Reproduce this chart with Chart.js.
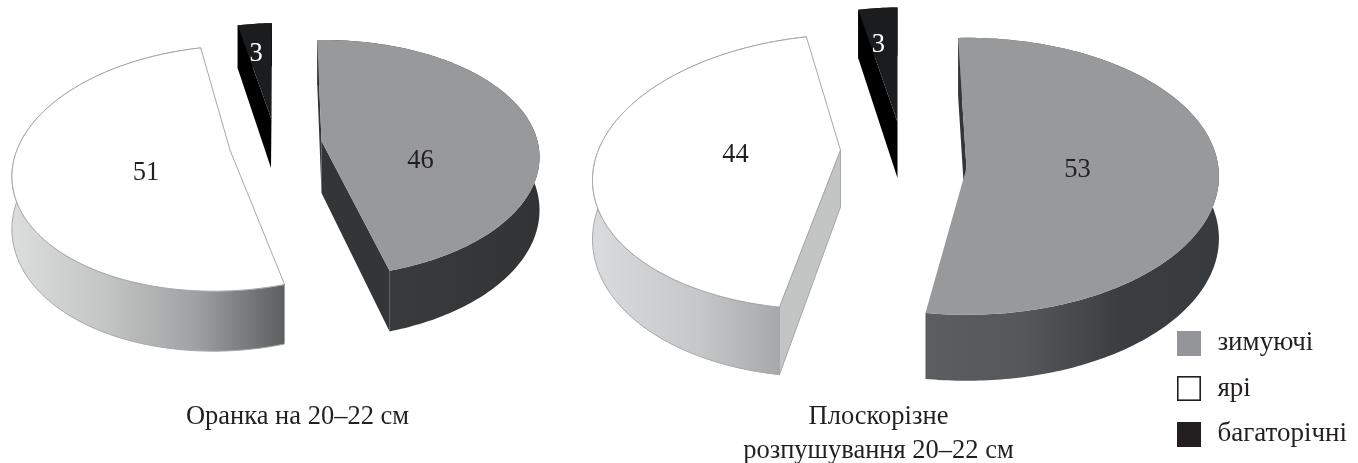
<!DOCTYPE html>
<html>
<head>
<meta charset="utf-8">
<style>
  html, body { margin: 0; background: #fff; width: 1358px; height: 463px; overflow: hidden; }
  canvas { position: absolute; top: 0; }
</style>
<script src="https://cdn.jsdelivr.net/npm/chart.js@4/dist/chart.umd.js"></script>
</head>
<body>
<canvas id="ploughing" width="600" height="463" style="left:0"></canvas>
<canvas id="flatCut" width="857" height="466" style="left:500px"></canvas>
<script>
// Weed group shares, per cent, for two tillage treatments
const categories = ['зимуючі', 'ярі', 'багаторічні'];
const ploughingShares = [46, 51, 3];
const flatCutShares = [53, 44, 3];
const ploughingCaption = 'Оранка на 20–22 см';
const flatCutCaption = ['Плоскорізне', 'розпушування 20–22 см'];

const sliceColors = ['#97999a', '#ffffff', '#1b1c1e'];
const textColor = '#231f20';
const serif = 'Liberation Serif';

// Projection of each exploded slice: shift from the pie centre, ellipse radii,
// perspective strength, horizontal skew, wall height, label offset and wall shades.
const ploughingViews = [
  { dx: 24, dy: -59.25, rx: 216, ry: 116, p: 0.1485, skew: -2.7, h: 52, label: [99, 20], labelColor: textColor,
    wall: ['#3b3d3f', '#37393b', '#313335'], cut: '#333537' },
  { dx: -67.5, dy: -50.25, rx: 213, ry: 120, p: 0.15, skew: -14, h: 51, label: [-84, 23], labelColor: textColor,
    wall: ['#dcdedd', '#c4c6c6', '#a0a2a3', '#5c5e60'], cut: '#c4c6c6', outline: '#a5a7a7' },
  { dx: -26.5, dy: -82.25, rx: 211, ry: 110, p: 0.16, skew: -8.5, h: 50, label: [-15, -64], labelColor: '#ffffff',
    wall: ['#000000', '#000000'], cut: '#000000' }
];
const flatCutViews = [
  { dx: 88, dy: -32.25, rx: 252, ry: 138, p: 0.06, skew: 0, h: 62, label: [111, 2], labelColor: textColor,
    wall: ['#5b5d5e', '#55585a', '#3b3e40', '#383b3d'], cut: '#333537' },
  { dx: -38, dy: -50.25, rx: 242, ry: 134, p: 0.159, skew: -14.6, h: 57, label: [-105, 5], labelColor: textColor,
    wall: ['#dadbdc', '#c6c7c8', '#9d9e9f'], cut: '#c3c4c4', outline: '#a5a7a7' },
  { dx: 19, dy: -78.25, rx: 242, ry: 133, p: 0.16, skew: -8.5, h: 56, label: [-19, -77], labelColor: '#ffffff',
    wall: ['#000000', '#000000'], cut: '#000000' }
];

// Pie controller that renders each arc element as a thick slice seen in perspective.
class Pie3DController extends Chart.PieController {
  draw() {
    const ctx = this.chart.ctx;
    const views = this.getDataset().views;
    const values = this.getDataset().data;
    this.getMeta().data.forEach((arc, i) => {
      const v = views[i];
      const ax = arc.x + v.dx, ay = arc.y + v.dy;
      const project = (angle) => {
        const u = Math.cos(angle), w = Math.sin(angle), d = 1 - v.p * w;
        return {
          x: ax + (v.rx * u + v.skew * w) / d,
          y: ay + (v.ry * w) / d,
          h: v.h / d
        };
      };
      const rim = [];
      const steps = Math.max(8, Math.round((arc.endAngle - arc.startAngle) * 60));
      for (let s = 0; s <= steps; s++) {
        rim.push(project(arc.startAngle + (arc.endAngle - arc.startAngle) * s / steps));
      }
      const first = rim[0], last = rim[rim.length - 1];
      const inner = rim[Math.floor(steps / 2)];

      ctx.save();
      ctx.lineJoin = 'round';

      // outer wall
      const xs = rim.map(q => q.x);
      const grad = ctx.createLinearGradient(Math.min(...xs), 0, Math.max(...xs), 0);
      v.wall.forEach((c, k) => grad.addColorStop(k / (v.wall.length - 1), c));
      ctx.beginPath();
      rim.forEach((q, k) => k ? ctx.lineTo(q.x, q.y) : ctx.moveTo(q.x, q.y));
      rim.slice().reverse().forEach(q => ctx.lineTo(q.x, q.y + q.h));
      ctx.closePath();
      ctx.fillStyle = grad;
      ctx.fill();
      if (v.outline) { ctx.strokeStyle = v.outline; ctx.lineWidth = 1; ctx.stroke(); }

      // cut faces, only those turned towards the viewer
      [first, last].forEach(e => {
        const ex = e.x - ax, ey = e.y - ay;
        const interiorSide = ex * (inner.y - ay) - ey * (inner.x - ax);
        const downSide = ex;
        if (interiorSide * downSide >= 0) return;
        ctx.beginPath();
        ctx.moveTo(ax, ay);
        ctx.lineTo(e.x, e.y);
        ctx.lineTo(e.x, e.y + e.h);
        ctx.lineTo(ax, ay + v.h);
        ctx.closePath();
        ctx.fillStyle = v.cut;
        ctx.fill();
        if (v.outline) { ctx.strokeStyle = v.outline; ctx.lineWidth = 1; ctx.stroke(); }
      });

      // top face
      ctx.beginPath();
      ctx.moveTo(ax, ay);
      rim.forEach(q => ctx.lineTo(q.x, q.y));
      ctx.closePath();
      ctx.fillStyle = arc.options.backgroundColor;
      ctx.fill();
      if (v.outline) { ctx.strokeStyle = v.outline; ctx.lineWidth = 1; ctx.stroke(); }

      // value label
      ctx.fillStyle = v.labelColor;
      ctx.font = '26.5px "' + serif + '"';
      ctx.textAlign = 'center';
      ctx.textBaseline = 'middle';
      ctx.fillText(String(values[i]), ax + v.label[0], ay + v.label[1]);
      ctx.restore();
    });
  }
}
Pie3DController.id = 'pie3d';
Pie3DController.defaults = Chart.PieController.defaults;
Pie3DController.overrides = Chart.PieController.overrides;
Chart.register(Pie3DController);

// Legend swatch with a transparent strip on the right to set the gap before the text
function swatch(fill, border) {
  const c = document.createElement('canvas');
  c.width = 27; c.height = 25;
  const g = c.getContext('2d');
  g.fillStyle = fill;
  g.fillRect(0, 0, 24, 25);
  if (border) {
    g.strokeStyle = border;
    g.lineWidth = 1.6;
    g.strokeRect(0.8, 0.8, 22.4, 23.4);
  }
  return c;
}
const legendSwatches = [swatch('#939598'), swatch('#ffffff', '#231f20'), swatch('#231f20')];

function pieConfig(values, views, caption, titlePadding, layoutPadding, withLegend) {
  return {
    type: 'pie3d',
    data: {
      labels: categories,
      datasets: [{ data: values, views, backgroundColor: sliceColors, radius: 200, rotation: -2, borderWidth: 0 }]
    },
    options: {
      responsive: false,
      animation: false,
      layout: { padding: layoutPadding },
      plugins: {
        tooltip: { enabled: false },
        title: {
          display: true,
          text: caption,
          position: 'bottom',
          fullSize: false,
          color: textColor,
          font: { family: serif, size: 26.5, weight: 'normal', lineHeight: 1.283 },
          padding: titlePadding
        },
        legend: {
          display: withLegend,
          position: 'right',
          align: 'end',
          labels: {
            usePointStyle: true,
            pointStyleWidth: 27,
            boxHeight: 27,
            padding: 18.5,
            color: textColor,
            font: { family: serif, size: 27 },
            generateLabels: () => categories.map((text, index) => ({
              text, index, datasetIndex: 0, hidden: false, lineWidth: 0,
              pointStyle: legendSwatches[index], fontColor: textColor
            }))
          }
        }
      }
    }
  };
}

new Chart(document.getElementById('ploughing'),
  pieConfig(ploughingShares, ploughingViews, ploughingCaption, { top: 0, bottom: 28.5 }, { right: 5 }, false));
new Chart(document.getElementById('flatCut'),
  pieConfig(flatCutShares, flatCutViews, flatCutCaption, { top: 0, bottom: -2.5 }, { left: 98.5 }, true));
</script>
</body>
</html>
